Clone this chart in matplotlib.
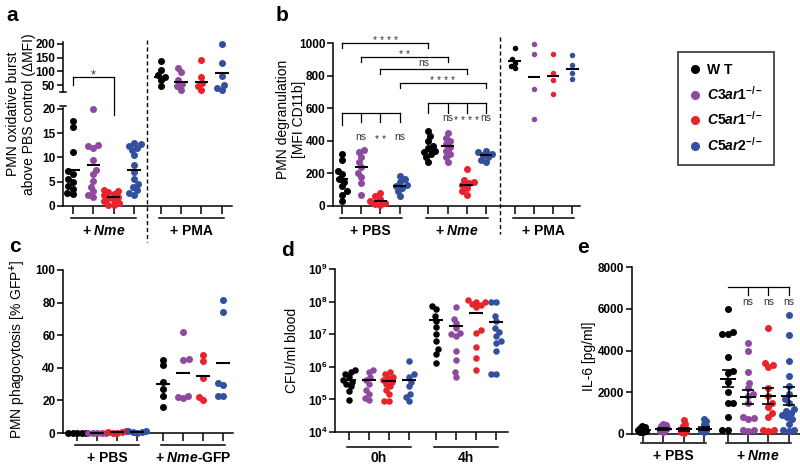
# Complement receptor knockouts - PMN panels a-e

import numpy as np
import matplotlib
matplotlib.use('Agg')
import matplotlib.pyplot as plt
from matplotlib.lines import Line2D
from matplotlib.transforms import blended_transform_factory

plt.rcParams['font.family'] = ['Liberation Sans', 'DejaVu Sans']
plt.rcParams['mathtext.fontset'] = 'custom'
plt.rcParams['mathtext.rm'] = 'Liberation Sans:bold'
plt.rcParams['mathtext.it'] = 'Liberation Sans:italic:bold'
plt.rcParams['mathtext.bf'] = 'Liberation Sans:bold'

# genotypes and colours
genotypes = ['W T', r'$\mathit{C3ar1}^{\mathit{-/-}}$', r'$\mathit{C5ar1}^{\mathit{-/-}}$',
             r'$\mathit{C5ar2}^{\mathit{-/-}}$']
colors = ['black', '#8e4a9e', '#e8232b', '#3350a0']

# a: oxidative burst (delta MFI)
a_nme = [[17.6, 16.2, 11.2, 7.2, 6.5, 5.5, 5.0, 4.2, 3.5, 2.6, 2.4],
         [20.0, 12.6, 12.4, 12.0, 9.5, 7.5, 6.5, 5.2, 4.0, 3.0, 2.2, 1.9],
         [3.4, 3.1, 2.8, 2.5, 2.2, 1.9, 1.6, 1.3, 1.0, 0.6, 0.3, 0.2],
         [13.0, 12.7, 12.4, 12.0, 11.5, 10.5, 8.5, 7.0, 5.5, 4.5, 4.0, 3.2, 2.6, 2.3]]
a_nme_mid = [7.5, 8.5, 1.9, 7.5]
a_pma = [[138, 105, 85, 78, 68, 45],
         [113, 97, 68, 55, 45, 32],
         [141, 80, 58, 45, 30],
         [200, 132, 83, 50, 40, 32]]
a_pma_mid = [78, 60, 62, 93]
a_groups = ['+ $\\mathit{Nme}$', '+ PMA']

# b: degranulation (MFI CD11b)
b_pbs = [[320, 280, 215, 195, 165, 150, 120, 90, 70, 30],
         [345, 330, 300, 270, 240, 205, 180, 140, 70],
         [80, 60, 45, 30, 20, 10, 5],
         [185, 165, 150, 130, 120, 110, 90, 60]]
b_pbs_mid = [165, 238, 30, 120]
b_nme = [[460, 430, 400, 370, 355, 340, 330, 320, 300, 270],
         [450, 420, 400, 380, 360, 340, 320, 300, 270],
         [230, 160, 150, 140, 130, 110, 90, 70],
         [340, 330, 320, 310, 300, 280, 270]]
b_nme_mid = [340, 370, 130, 315]
b_pma = [[970, 900, 880, 860, 845],
         [995, 935, 720, 535],
         [935, 815, 770, 690],
         [925, 865, 815, 780]]
b_pma_mid = [888, 791, 797, 840]
b_groups = ['+ PBS', '+ $\\mathit{Nme}$', '+ PMA']

# c: phagocytosis (% GFP+)
c_pbs = [[0, 0, 0, 0, 0],
         [0, 0, 0, 0, 0],
         [0.3, 0.6, 1.0, 0.2, 0.5],
         [0.5, 1.2, 0.8, 0.3, 1.5]]
c_pbs_mid = [0, 0, 0.5, 0.8]
c_gfp = [[45, 41.5, 31, 27, 22.5, 16],
         [62, 45.5, 45, 23, 22, 21.5],
         [48, 44, 34, 22, 20],
         [81.5, 74, 30.5, 29.5, 22.5, 22.5]]
c_gfp_mid = [30, 37, 35, 43]
c_groups = ['+ PBS', '+ $\\mathit{Nme}$-GFP']

# d: CFU/ml blood
d_0h = [[8e5, 7e5, 6e5, 5e5, 4e5, 3.5e5, 3e5, 2.5e5, 1.8e5, 9.5e4],
        [8e5, 7e5, 5e5, 4e5, 3e5, 2e5, 1.5e5, 1.1e5, 9.5e4],
        [7e5, 6e5, 5e5, 4.5e5, 4e5, 3.5e5, 3e5, 2.5e5, 2e5, 1.5e5, 9e4, 9e4],
        [1.5e6, 6e5, 5e5, 3.5e5, 2.5e5, 1.5e5, 1.2e5, 9e4]]
d_0h_mid = [3.9e5, 4e5, 3.7e5, 3.8e5]
d_4h = [[7.5e7, 6e7, 3.5e7, 2.5e7, 1.7e7, 1e7, 6e6, 3.5e6, 2.5e6, 1.3e6],
        [7e7, 3e7, 2.2e7, 1.5e7, 1.1e7, 1e7, 9e6, 3e6, 1.6e6, 7e5, 5e5],
        [1.1e8, 1e8, 9.5e7, 8.5e7, 8e7, 7e7, 1.3e7, 1.1e7, 4e6, 1.8e6, 8e5],
        [1e8, 9.5e7, 3.5e7, 2.5e7, 1.5e7, 1.2e7, 9e6, 6e6, 5.5e6, 3e6, 6e5, 6e5]]
d_4h_mid = [2.7e7, 1.8e7, 4.5e7, 2.4e7]
d_groups = ['0h', '4h']

# e: IL-6 (pg/ml), mean +/- SEM
e_pbs = [[400, 350, 300, 250, 200, 150, 100, 80],
         [500, 450, 400, 350, 300, 250, 200, 150, 100],
         [650, 500, 400, 300, 200, 150, 100, 50],
         [700, 600, 500, 400, 300, 200, 150, 100]]
e_pbs_mean = [200, 230, 220, 250]
e_pbs_sem = [40, 45, 60, 70]
e_nme = [[6000, 4900, 4800, 4800, 3700, 3000, 2900, 2500, 2000, 1500, 1500, 800, 200, 200],
         [4350, 4000, 2950, 2450, 2200, 1900, 1800, 1500, 800, 750, 700, 200, 200, 150],
         [5100, 3400, 3300, 3200, 2200, 1800, 1500, 1300, 1000, 800, 200, 200, 150],
         [5700, 4750, 3500, 2800, 2300, 1900, 1700, 1500, 1200, 1100, 1000, 900, 800,
          700, 500, 200, 200, 150]]
e_nme_mean = [2650, 1780, 1820, 1820]
e_nme_sem = [400, 330, 380, 420]
e_groups = ['+ PBS', '+ $\\mathit{Nme}$']

W, H = 800, 466
fig = plt.figure(figsize=(W / 100, H / 100), dpi=100)


def fy(ypx):
    return 1 - ypx / H


def px_axes(x0, y0, x1, y1):
    return fig.add_axes([x0 / W, 1 - y1 / H, (x1 - x0) / W, (y1 - y0) / H])


def blend(ax):
    return blended_transform_factory(ax.transData, fig.transFigure)


def style(ax, xlim, ylim, yticks, xticks=None):
    ax.set_xlim(*xlim)
    ax.set_ylim(*ylim)
    ax.patch.set_visible(False)
    for s in ['top', 'right']:
        ax.spines[s].set_visible(False)
    for s in ['left', 'bottom']:
        ax.spines[s].set_linewidth(1.1)
    ax.set_yticks(yticks)
    ax.tick_params(axis='y', length=4, width=1.1, labelsize=8.5, pad=1.5)
    if xticks is None:
        ax.spines['bottom'].set_visible(False)
        ax.set_xticks([])
    else:
        ax.set_xticks(xticks)
        ax.tick_params(axis='x', length=6, width=1.1, labelbottom=False)
    plt.setp(ax.get_yticklabels(), fontweight='bold')


def swarm(ax, xc, vals, color, size=7.0, gap=0.75):
    # spread points of one group sideways so they do not overlap too much (in pixels)
    vals = np.sort(np.asarray(vals, float))
    pts = ax.transData.transform(np.column_stack([np.full(len(vals), xc), vals]))
    unit = ax.transData.transform((xc + 1, vals[0]))[0] - pts[0, 0]
    placed, xs = [], []
    for j, yp in enumerate(pts[:, 1]):
        first = 1 if j % 2 == 0 else -1
        steps = [0.0] + [s * k * 0.5 for k in range(1, 120) for s in (first, -first)]
        for dx in steps:
            if all((dx - px) ** 2 + (yp - py) ** 2 >= (size * gap) ** 2 for px, py in placed):
                break
        placed.append((dx, yp))
        xs.append(xc + dx / unit)
    ax.scatter(xs, vals, s=(size * 0.72) ** 2, color=color, linewidths=0,
               clip_on=False, zorder=3)


def midline(ax, xc, y, half=0.33):
    ax.plot([xc - half, xc + half], [y, y], color='black', lw=1.5, zorder=4,
            solid_capstyle='butt', clip_on=False)


def dots(ax, pos, groups, mids, size=7.0, gap=0.75):
    for i, (vals, m) in enumerate(zip(groups, mids)):
        swarm(ax, pos[i], vals, colors[i], size, gap)
        midline(ax, pos[i], m)


def group_bar(ax, x0, x1, ypx, label, base):
    tr = blend(ax)
    ax.plot([x0 - 0.1, x1 + 0.1], [fy(ypx)] * 2, transform=tr, color='black', lw=1.1,
            clip_on=False)
    ax.text((x0 + x1) / 2, fy(base), label, transform=tr, ha='center', va='baseline',
            fontsize=10, fontweight='bold')


def bracket(ax, x0, x1, ypx, legs):
    tr = blend(ax)
    ax.plot([x0, x1], [fy(ypx)] * 2, transform=tr, color='black', lw=0.9, clip_on=False)
    for x, yb in legs:
        ax.plot([x, x], [fy(ypx), fy(yb)], transform=tr, color='black', lw=0.9,
                clip_on=False)


def sig(ax, x, ypx, s, fs=7.5):
    up = 0.58 if '*' in s else 0.26
    base = ypx + up * fs * 100 / 72
    ax.text(x, fy(base), s, transform=blend(ax), ha='center', va='baseline', fontsize=fs,
            color='#333333', clip_on=False)


def dashed(ax, x, y0, y1):
    tr = blend(ax)
    ax.plot([x, x], [fy(y0), fy(y1)], transform=tr, color='black', lw=1.0,
            dashes=(3, 2), clip_on=False)


def letter(xpx, base, s):
    fig.text(xpx / W, fy(base), s, fontsize=15, fontweight='bold', ha='center', va='baseline')


def ylab(xpx, ypx, s):
    fig.text(xpx / W, fy(ypx), s, rotation=90, ha='center', va='center',
             multialignment='center', fontsize=10, linespacing=1.15)


def fig_line(xs, ys):
    fig.add_artist(Line2D([x / W for x in xs], [fy(y) for y in ys], color='black', lw=1.1))


# ---------------- panel a ----------------
pa1 = np.arange(4)
pa2 = pa1 + 4.3
a_top = px_axes(63, 42, 232, 92)
a_bot = px_axes(63, 108, 232, 206)
style(a_top, (-0.49, 7.8), (24.4, 207.3), [50, 100, 150, 200])
style(a_bot, (-0.49, 7.8), (0, 20.2), [0, 5, 10, 15, 20], np.r_[pa1, pa2])
dots(a_bot, pa1, a_nme, a_nme_mid)
dots(a_top, pa2, a_pma, a_pma_mid)
fig_line([60, 66], [92, 92])
fig_line([60, 66], [106, 106])
group_bar(a_bot, pa1[0], pa1[-1], 218, a_groups[0], 235)
group_bar(a_bot, pa2[0], pa2[-1], 218, a_groups[1], 235)
dashed(a_bot, (pa1[-1] + pa2[0]) / 2, 40, 242)
bracket(a_bot, pa1[0], pa1[2], 77, [(pa1[0], 85), (pa1[2], 115)])
sig(a_bot, (pa1[0] + pa1[2]) / 2, 71, '*', fs=9)
letter(12, 21, 'a')
ylab(21, 114, 'PMN oxidative burst\nabove PBS control (ΔMFI)')

# ---------------- panel b ----------------
pb1 = np.arange(4)
pb2 = pb1 + 4.5
pb3 = pb1 + 9
b_ax = px_axes(333, 43, 580, 206)
style(b_ax, (-0.47, 12.4), (0, 1000), [0, 200, 400, 600, 800, 1000], np.r_[pb1, pb2, pb3])
dots(b_ax, pb1, b_pbs, b_pbs_mid)
dots(b_ax, pb2, b_nme, b_nme_mid)
dots(b_ax, pb3, b_pma, b_pma_mid, size=5.5)
for xs, lab in zip([pb1, pb2, pb3], b_groups):
    group_bar(b_ax, xs[0], xs[-1], 218, lab, 235)
dashed(b_ax, (pb2[-1] + pb3[0]) / 2, 37, 234)
# PBS vs Nme comparisons
for i, (ypx, s) in enumerate(zip([43, 57, 69, 83], ['* * * *', '* *', 'ns', '* * * *'])):
    bracket(b_ax, pb1[i], pb2[i], ypx, [(pb1[i], ypx + 5), (pb2[i], ypx + 5)])
    sig(b_ax, (pb1[i] + pb2[i]) / 2, ypx - 5 if '*' in s else ypx - 6, s)
bracket(b_ax, pb1[0], pb1[-1], 113, [(pb1[0], 125)] + [(x, 122) for x in pb1[1:]])
for x, s in zip(pb1[1:], ['ns', '* *', 'ns']):
    sig(b_ax, x, 137, s)
bracket(b_ax, pb2[0], pb2[-1], 103, [(x, 113) for x in pb2])
for x, s in zip(pb2[1:], ['ns', '* * * *', 'ns']):
    sig(b_ax, x, 118, s)
letter(282, 21, 'b')
ylab(291, 119, 'PMN degranulation\n[MFI CD11b]')

# legend
handles = [Line2D([], [], ls='none', marker='o', ms=5.5, color=c) for c in colors]
leg = fig.legend(handles, genotypes, loc='upper left', bbox_to_anchor=(678 / W, fy(52)),
                 fontsize=10, frameon=True, fancybox=False, edgecolor='black',
                 handlelength=0.8, handletextpad=0.5, labelspacing=0.55, borderpad=0.8,
                 borderaxespad=0)
leg.get_frame().set_linewidth(1.2)
for t in leg.get_texts():
    t.set_fontweight('bold')

# ---------------- panel c ----------------
pc1 = np.arange(4)
pc2 = pc1 + 4.3
c_ax = px_axes(63, 270, 233, 433)
style(c_ax, (-0.7, 7.8), (0, 100), [0, 20, 40, 60, 80, 100], np.r_[pc1, pc2])
dots(c_ax, pc1, c_pbs, c_pbs_mid, gap=0.6)
dots(c_ax, pc2, c_gfp, c_gfp_mid)
group_bar(c_ax, pc1[0], pc1[-1], 445, c_groups[0], 462)
group_bar(c_ax, pc2[0], pc2[-1], 445, c_groups[1], 462)
letter(15, 252, 'c')
ylab(18, 349, 'PMN phagocytosis [% GFP$^{+}$]')

# ---------------- panel d ----------------
pd1 = np.arange(4)
pd2 = pd1 + 4.35
d_ax = px_axes(335, 269, 508, 432)
d_ax.set_yscale('log')
style(d_ax, (-0.7, 7.95), (1e4, 1e9), [1e4, 1e5, 1e6, 1e7, 1e8, 1e9], np.r_[pd1, pd2])
d_ax.yaxis.set_minor_locator(matplotlib.ticker.NullLocator())
d_ax.set_yticklabels(['$10^{%d}$' % k for k in range(4, 10)])
dots(d_ax, pd1, d_0h, d_0h_mid, size=6.5)
dots(d_ax, pd2, d_4h, d_4h_mid, size=6.5)
group_bar(d_ax, pd1[0], pd1[-1], 447, d_groups[0], 462)
group_bar(d_ax, pd2[0], pd2[-1], 447, d_groups[1], 462)
letter(287, 256, 'd')
ylab(292, 350, 'CFU/ml blood')

# ---------------- panel e ----------------
pe1 = np.arange(4)
pe2 = pe1 + 4.17
e_ax = px_axes(632, 267, 800, 434)
style(e_ax, (-0.55, 7.73), (0, 8000), [0, 2000, 4000, 6000, 8000], np.r_[pe1, pe2])
for pos, groups, means, sems, gap in [(pe1, e_pbs, e_pbs_mean, e_pbs_sem, 0.4),
                                      (pe2, e_nme, e_nme_mean, e_nme_sem, 0.75)]:
    for i in range(4):
        swarm(e_ax, pos[i], groups[i], colors[i], 7.0, gap)
        m, s = means[i], sems[i]
        e_ax.plot([pos[i] - 0.35, pos[i] + 0.35], [m, m], color='black', lw=1.4, zorder=4,
                  clip_on=False)
        e_ax.errorbar(pos[i], m, yerr=s, fmt='none', ecolor='black', elinewidth=1.2,
                      capsize=4, capthick=1.2, zorder=4)
group_bar(e_ax, pe1[0], pe1[-1], 443, e_groups[0], 460)
group_bar(e_ax, pe2[0], pe2[-1], 443, e_groups[1], 460)
bracket(e_ax, pe2[0], pe2[-1], 287, [(x, 295) for x in pe2[1:]])
for x in pe2[1:]:
    sig(e_ax, x, 302, 'ns')
letter(583, 253, 'e')
ylab(589, 356, 'IL-6 [pg/ml]')

fig.savefig('out.png', dpi=100)
